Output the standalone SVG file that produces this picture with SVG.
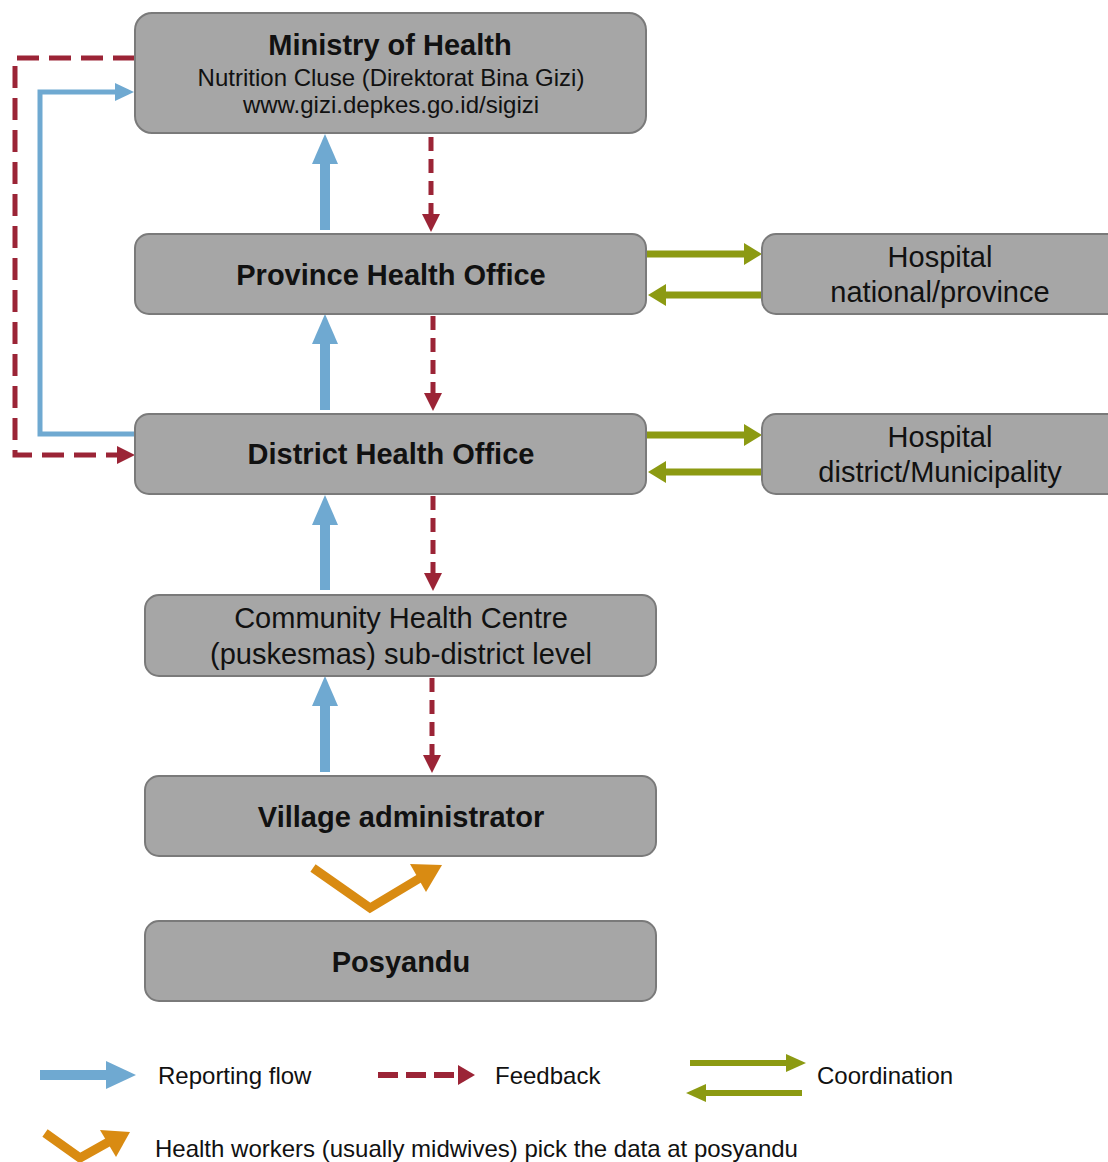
<svg xmlns="http://www.w3.org/2000/svg" width="1108" height="1162" viewBox="0 0 1108 1162">
<style>
.box{fill:#a6a6a6;stroke:#7a7a7a;stroke-width:2}
text{font-family:"Liberation Sans",Arial,sans-serif;fill:#111}
.b{font-weight:bold;font-size:29px}
.r{font-size:29px}
.s{font-size:24px}
.l{font-size:24px}
.blue{stroke:#6fa9d1;stroke-width:10;fill:none}
.red{stroke:#9b2436;stroke-width:5;stroke-dasharray:14 8;fill:none}
.olive{stroke:#8c9a12;stroke-width:7;fill:none}
.orange{stroke:#d98b12;stroke-width:9;fill:none}
</style>
<defs>
<marker id="hb" markerUnits="userSpaceOnUse" markerWidth="30" markerHeight="30" refX="0" refY="15" orient="auto"><path d="M0,2 L30,15 L0,28 Z" fill="#6fa9d1"/></marker>
<marker id="hr" markerUnits="userSpaceOnUse" markerWidth="20" markerHeight="20" refX="0" refY="10" orient="auto"><path d="M0,1 L18,10 L0,19 Z" fill="#9b2436"/></marker>
<marker id="ho" markerUnits="userSpaceOnUse" markerWidth="20" markerHeight="22" refX="0" refY="11" orient="auto"><path d="M0,0 L18,11 L0,22 Z" fill="#8c9a12"/></marker>
</defs>

<g id="connectors">
<path class="blue" d="M325,230 V164" marker-end="url(#hb)"/>
<path class="blue" d="M325,410 V344" marker-end="url(#hb)"/>
<path class="blue" d="M325,590 V525" marker-end="url(#hb)"/>
<path class="blue" d="M325,772 V706" marker-end="url(#hb)"/>
<path class="red" d="M431,137 V214" marker-end="url(#hr)"/>
<path class="red" d="M433,316 V393" marker-end="url(#hr)"/>
<path class="red" d="M433,496 V573" marker-end="url(#hr)"/>
<path class="red" d="M432,678 V755" marker-end="url(#hr)"/>
<path class="red" d="M135,58 H15 V455 H117" style="stroke-dasharray:22 10" marker-end="url(#hr)"/>
<path class="blue" d="M135,434 H40 V92 H115" style="stroke-width:5"/>
<path d="M115,83 L134,92 L115,101 Z" fill="#6fa9d1"/>
<path class="olive" d="M647,254 H744" marker-end="url(#ho)"/>
<path class="olive" d="M762,295 H666"/>
<path d="M666,284 L648,295 L666,306 Z" fill="#8c9a12"/>
<path class="olive" d="M647,435 H744" marker-end="url(#ho)"/>
<path class="olive" d="M762,472 H666"/>
<path d="M666,461 L648,472 L666,483 Z" fill="#8c9a12"/>
<path class="orange" d="M313,868 L370,908 L420,878"/>
<path d="M410,864 L442,865 L426,892 Z" fill="#d98b12"/>
</g>

<g id="ministry">
<rect class="box" x="135" y="13" width="511" height="120" rx="17"/>
<text class="b" x="390" y="55" text-anchor="middle">Ministry of Health</text>
<text class="s" x="391" y="86" text-anchor="middle">Nutrition Cluse (Direktorat Bina Gizi)</text>
<text class="s" x="391" y="113" text-anchor="middle">www.gizi.depkes.go.id/sigizi</text>
</g>
<g id="province">
<rect class="box" x="135" y="234" width="511" height="80" rx="14"/>
<text class="b" x="391" y="285" text-anchor="middle">Province Health Office</text>
</g>
<g id="district">
<rect class="box" x="135" y="414" width="511" height="80" rx="14"/>
<text class="b" x="391" y="464" text-anchor="middle">District Health Office</text>
</g>
<g id="hospital-national">
<rect class="box" x="762" y="234" width="360" height="80" rx="14"/>
<text class="r" x="940" y="267" text-anchor="middle">Hospital</text>
<text class="r" x="940" y="302" text-anchor="middle">national/province</text>
</g>
<g id="hospital-district">
<rect class="box" x="762" y="414" width="360" height="80" rx="14"/>
<text class="r" x="940" y="447" text-anchor="middle">Hospital</text>
<text class="r" x="940" y="482" text-anchor="middle">district/Municipality</text>
</g>
<g id="community">
<rect class="box" x="145" y="595" width="511" height="81" rx="14"/>
<text class="r" x="401" y="628" text-anchor="middle">Community Health Centre</text>
<text class="r" x="401" y="664" text-anchor="middle">(puskesmas) sub-district level</text>
</g>
<g id="village">
<rect class="box" x="145" y="776" width="511" height="80" rx="14"/>
<text class="b" x="401" y="827" text-anchor="middle">Village administrator</text>
</g>
<g id="posyandu">
<rect class="box" x="145" y="921" width="511" height="80" rx="14"/>
<text class="b" x="401" y="972" text-anchor="middle">Posyandu</text>
</g>

<g id="legend">
<path class="blue" d="M40,1075 H108"/>
<path d="M106,1061 L136,1075 L106,1089 Z" fill="#6fa9d1"/>
<text class="l" x="158" y="1084">Reporting flow</text>
<path class="red" d="M378,1075 H458" style="stroke-dasharray:20 8;stroke-width:6"/>
<path d="M458,1065 L475,1075 L458,1085 Z" fill="#9b2436"/>
<text class="l" x="495" y="1084">Feedback</text>
<path class="olive" d="M690,1063 H788" style="stroke-width:6"/>
<path d="M786,1054 L806,1063 L786,1072 Z" fill="#8c9a12"/>
<path class="olive" d="M802,1093 H704" style="stroke-width:6"/>
<path d="M706,1084 L686,1093 L706,1102 Z" fill="#8c9a12"/>
<text class="l" x="817" y="1084">Coordination</text>
<path class="orange" d="M45,1133 L80,1158 L112,1140"/>
<path d="M100,1130 L130,1132 L116,1157 Z" fill="#d98b12"/>
<text class="l" x="155" y="1157">Health workers (usually midwives) pick the data at posyandu</text>
</g>
</svg>
